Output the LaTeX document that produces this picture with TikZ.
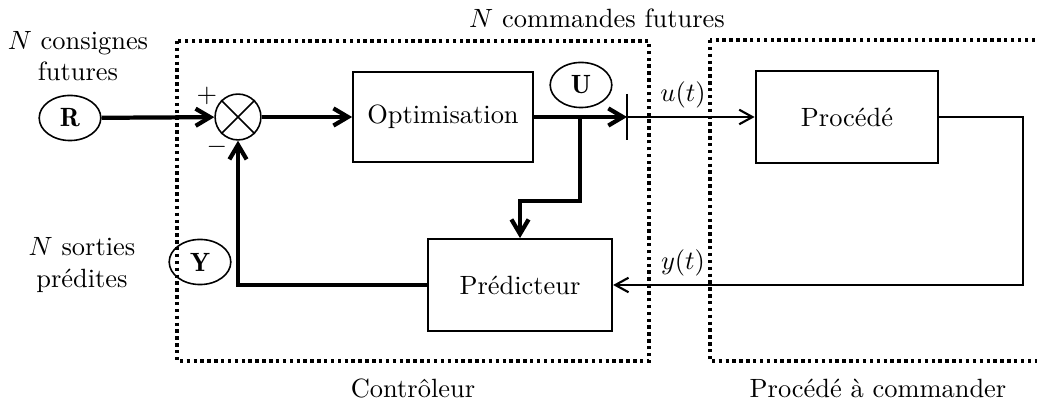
\documentclass[tikz,border=0pt]{standalone}
\usepackage{fontspec}
\usetikzlibrary{arrows.meta,shapes.geometric}
\begin{document}
\begin{tikzpicture}[x=0.0133cm,y=-0.0133cm,
  blk/.style={draw,line width=0.8pt,rectangle,inner sep=0pt},
  ell/.style={draw,line width=0.6pt,ellipse,inner sep=0pt,minimum width=0.82cm,minimum height=0.6cm},
  sumnode/.style={draw,line width=0.6pt,circle,inner sep=0pt,minimum size=0.61cm},
  thk/.style={line width=1.6pt},
  thn/.style={line width=0.8pt},
  thkarrow/.style={thk,-{Straight Barb[length=5.5pt,width=6.5pt]}},
  thnarrow/.style={thn,-{Straight Barb[length=5pt,width=5.5pt]}},
  dotbox/.style={line width=1.2pt,dash pattern=on 1.3pt off 1.3pt},
  lbl/.style={inner sep=0pt,align=center}]
\useasboundingbox (0,0) rectangle (1037,403);
\clip (0,0) rectangle (1037,403);

% frames of the controller and of the plant
\draw[dotbox] (177,41) rectangle (649,361);
\draw[dotbox] (710,40) rectangle (1070,361);

% blocks
\node[ell] (R) at (70,118) {$\mathbf{R}$};
\node[sumnode] (S) at (238,117) {};
\draw[line width=0.6pt] (S.north west) -- (S.south east) (S.north east) -- (S.south west);
\node[blk,minimum width=2.39cm,minimum height=1.2cm] (opt) at (443,117) {Optimisation};
\node[blk,minimum width=2.43cm,minimum height=1.22cm] (proc) at (847,117) {Procédé};
\node[blk,minimum width=2.45cm,minimum height=1.22cm] (pred) at (520,285) {Prédicteur};
\node[ell] (U) at (581,85) {$\mathbf{U}$};
\node[ell] (Y) at (200,262) {$\mathbf{Y}$};

% helper points
\coordinate (tick) at (627,117);
\coordinate (tickT) at (627,94);
\coordinate (tickB) at (627,140);
\coordinate (br) at (580,117);
\coordinate (bk) at (580,201);
\coordinate (oc) at (1023,117);

% connectors
\draw[thkarrow] (R) -- (S);
\draw[thkarrow] (S) -- (opt);
\draw[thkarrow] (opt.east) -- (tick);
\draw[thn] (tickT) -- (tickB);
\draw[thnarrow] (tick) -- (proc);
\draw[thkarrow] (br) -- (bk) -| (pred.north);
\draw[thkarrow] (pred.west) -| (S.south);
\draw[thnarrow] (proc.east) -- (oc) |- (pred.east);

% signs and labels
\node[lbl] (plus) at (207,96) {$+$};
\node[lbl] (minus) at (217,147) {$-$};
\node[lbl] (ut) at (683,95) {$u(t)$};
\node[lbl] (yt) at (683,263) {$y(t)$};
\node[lbl] (cons) at (78,56) {$N$ consignes\\futures};
\node[lbl] (sort) at (82,265) {$N$ sorties\\prédites};
\node[lbl] (cmd) at (597,18) {$N$ commandes futures};
\node[lbl] (ctrl) at (413,388) {Contrôleur};
\node[lbl] (pac) at (878,388) {Procédé à commander};
\end{tikzpicture}
\end{document}
